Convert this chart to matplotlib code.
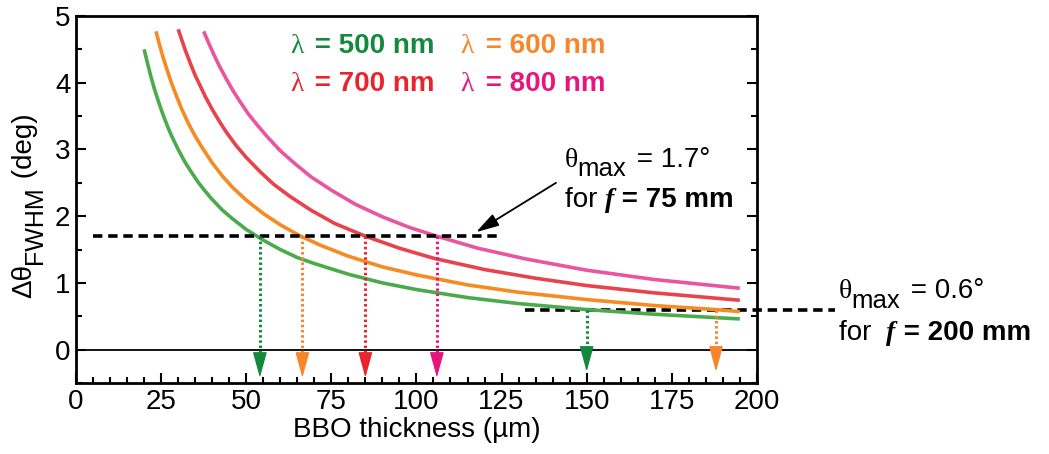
import matplotlib
matplotlib.use("Agg")
import matplotlib.pyplot as plt
from matplotlib.ticker import MultipleLocator

plt.rcParams['font.family'] = ['Liberation Sans', 'DejaVu Sans']

# Curves (thickness in um, angle in deg)
x_500 = [20, 21, 22, 23, 24, 25, 26, 27, 28, 30, 32, 34, 36, 38, 40, 43, 46, 50, 55, 60, 65, 70, 80, 90,
         100, 115, 130, 150, 170, 195]
y_500 = [4.50, 4.29, 4.09, 3.91, 3.75, 3.60, 3.46, 3.33, 3.21, 3.00, 2.81, 2.65, 2.50, 2.37, 2.25, 2.09,
         1.96, 1.80, 1.64, 1.50, 1.38, 1.29, 1.13, 1.00, 0.90, 0.78, 0.69, 0.60, 0.53, 0.46]
x_600 = [23.5, 24.5, 25.5, 26.5, 28, 29.5, 31, 33, 35, 37, 40, 43, 46, 50, 55, 60, 66, 72, 80, 90, 100,
         115, 130, 150, 170, 188, 195]
y_600 = [4.77, 4.57, 4.39, 4.23, 4.00, 3.80, 3.61, 3.39, 3.20, 3.03, 2.80, 2.60, 2.43, 2.24, 2.04, 1.87,
         1.70, 1.56, 1.40, 1.24, 1.12, 0.97, 0.86, 0.75, 0.66, 0.60, 0.57]
x_700 = [30, 31, 32, 33.5, 35, 36.5, 38, 40, 42, 44, 47, 50, 54, 58, 63, 69, 76, 85, 95, 105, 120, 135,
         150, 170, 195]
y_700 = [4.80, 4.65, 4.50, 4.30, 4.11, 3.95, 3.79, 3.60, 3.43, 3.27, 3.06, 2.88, 2.67, 2.48, 2.29, 2.09,
         1.89, 1.70, 1.52, 1.37, 1.20, 1.07, 0.96, 0.85, 0.74]
x_800 = [37.5, 39, 40.5, 42, 44, 46, 48, 50.5, 53, 56, 60, 64, 69, 75, 82, 90, 98, 106, 118, 132, 150,
         170, 195]
y_800 = [4.77, 4.59, 4.42, 4.26, 4.07, 3.89, 3.73, 3.54, 3.38, 3.20, 2.98, 2.80, 2.59, 2.39, 2.18, 1.99,
         1.83, 1.70, 1.52, 1.36, 1.19, 1.05, 0.92]

# thresholds and where each curve crosses them
theta_75 = 1.7
theta_200 = 0.6
cross_75 = [54, 66.5, 85, 106]      # 500, 600, 700, 800 nm
cross_200 = [150, 188]              # 500, 600 nm

labels = ['500 nm', '600 nm', '700 nm', '800 nm']
line_colors = ['#4bab4c', '#f58b22', '#e8434c', '#e9559f']
text_colors = ['#12893d', '#f7862a', '#e8242c', '#e8157f']

FS = 20

fig = plt.figure(figsize=(10.49, 4.54), dpi=100)
ax = fig.add_axes([0.0725, 0.1564, 0.649, 0.8084])

for xs, ys, c in zip([x_500, x_600, x_700, x_800], [y_500, y_600, y_700, y_800], line_colors):
    ax.plot(xs, ys, color=c, lw=2.6, solid_capstyle='butt')

ax.axhline(0, color='black', lw=1.3)

# dashed threshold lines
ax.plot([5, 124], [theta_75, theta_75], color='black', lw=2.6, linestyle=(0, (2.6, 1.6)))
ax.plot([132, 223], [theta_200, theta_200], color='black', lw=2.6, linestyle=(0, (2.6, 1.6)),
        clip_on=False, zorder=1)


def drop_arrow(x, y0, tip, c):
    base = tip + 0.33
    ax.plot([x, x], [y0, base], color=c, lw=2.2, linestyle=(0, (0.8, 0.9)))
    ax.annotate('', xy=(x, tip), xytext=(x, base),
                arrowprops=dict(arrowstyle='-|>,head_length=0.8,head_width=0.22',
                                color=c, lw=1, shrinkA=0, shrinkB=0, mutation_scale=20))


for x, c in zip(cross_75, text_colors):
    drop_arrow(x, theta_75, -0.42, c)
for x, c in zip(cross_200, [text_colors[0], text_colors[1]]):
    drop_arrow(x, theta_200, -0.33, c)


def chain(x, y, pieces, color='black'):
    # pieces: (text, fontsize, weight, style, family, dx, dy) laid out left to right
    first = prev = None
    for s, fs, wt, st, fam, dx, dy in pieces:
        props = dict(fontsize=fs, fontweight=wt, fontstyle=st, family=fam, color=color, ha='left')
        if first is None:
            t = ax.text(x, y, s, va='baseline', clip_on=False, **props)
            first = t
        else:
            t = ax.annotate(s, xy=(1, 0), xycoords=(prev, first), xytext=(dx, dy),
                            textcoords='offset points', va='bottom', annotation_clip=False, **props)
        prev = t


SANS = ['Liberation Sans', 'DejaVu Sans']
SERIF = ['Liberation Serif', 'DejaVu Serif']

# wavelength labels
pos = [(62.8, 4.45), (113, 4.45), (62.8, 3.88), (113, 3.88)]
for (px, py), lab, c in zip(pos, labels, text_colors):
    chain(px, py, [('λ', FS, 'normal', 'normal', SERIF, 0, 0),
                   (' = ' + lab, FS, 'bold', 'normal', SANS, 3, 0)], color=c)

# annotations
ax.annotate('', xy=(117.5, 1.76), xytext=(141, 2.5),
            arrowprops=dict(arrowstyle='-|>,head_length=0.7,head_width=0.2', color='black',
                            lw=1.3, shrinkA=0, shrinkB=0, mutation_scale=20))


def theta_text(x, y, val):
    chain(x, y, [('θ', FS, 'normal', 'normal', SERIF, 0, 0),
                 ('max', 18.5, 'normal', 'normal', SANS, 0, -6),
                 (' = ' + val, FS, 'normal', 'normal', SANS, 2, 0)])


def for_text(x, y, val, gap):
    chain(x, y, [('for' + gap, FS, 'normal', 'normal', SANS, 0, 0),
                 ('f', FS, 'bold', 'italic', SERIF, 0, 0),
                 (' = ' + val, FS, 'bold', 'normal', SANS, 0, 0)])


theta_text(143.5, 2.74, '1.7°')
for_text(143.5, 2.13, '75 mm', ' ')
theta_text(224, 0.77, '0.6°')
for_text(224, 0.15, '200 mm', '  ')

ax.set_xlim(0, 200)
ax.set_ylim(-0.5, 5)
ax.xaxis.set_major_locator(MultipleLocator(25))
ax.xaxis.set_minor_locator(MultipleLocator(5))
ax.set_yticks([0, 1, 2, 3, 4, 5])
ax.yaxis.set_minor_locator(MultipleLocator(0.5))
ax.tick_params(which='both', direction='in', top=False, right=True, width=1.5, labelsize=FS)
ax.tick_params(which='major', length=7, pad=4)
ax.tick_params(which='minor', length=4)
for s in ax.spines.values():
    s.set_linewidth(2)

ax.set_xlabel('BBO thickness (µm)', fontsize=FS, labelpad=2)

# y label built from pieces so the subscript keeps its large size
yl = fig.text(0.011, 1 - 298 / 454, 'Δθ', rotation=90, ha='left', va='bottom', fontsize=FS,
              family=SANS)
sub = ax.annotate('FWHM', xy=(0, 1), xycoords=(yl, yl), xytext=(8, 0), textcoords='offset points',
                  rotation=90, ha='left', va='bottom', fontsize=18, family=SANS, annotation_clip=False)
ax.annotate(' (deg)', xy=(0, 1), xycoords=(yl, sub), rotation=90, ha='left', va='bottom',
            fontsize=FS, family=SANS, annotation_clip=False)

fig.savefig('out.png', dpi=100)
